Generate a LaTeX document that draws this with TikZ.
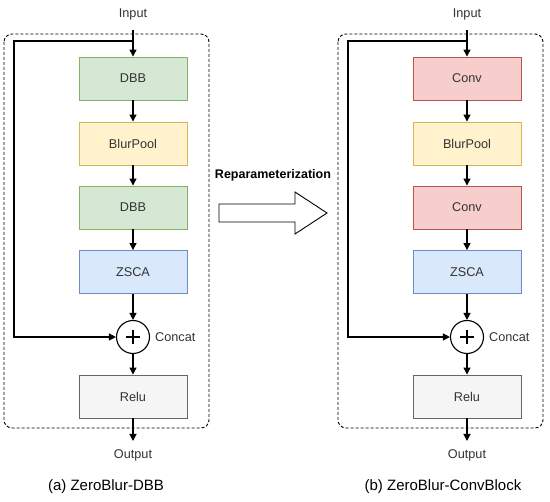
\documentclass[tikz,border=0pt]{standalone}
\usepackage{fontspec}
\setmainfont{Liberation Sans}
\usetikzlibrary{arrows.meta}
\definecolor{gfill}{HTML}{D5E8D4}\definecolor{gline}{HTML}{82B366}
\definecolor{yfill}{HTML}{FFF2CC}\definecolor{yline}{HTML}{D6B656}
\definecolor{bfill}{HTML}{DAE8FC}\definecolor{bline}{HTML}{6C8EBF}
\definecolor{rfill}{HTML}{F8CECC}\definecolor{rline}{HTML}{B85450}
\definecolor{wfill}{HTML}{F5F5F5}\definecolor{wline}{HTML}{666666}
\definecolor{txt}{HTML}{333333}
\tikzset{
  blk/.style={draw, line width=0.9pt, minimum width=108pt, minimum height=43pt, inner sep=0pt, font=\fontsize{12.7}{15}\selectfont, text=txt},
  gbox/.style={blk, fill=gfill, draw=gline},
  ybox/.style={blk, fill=yfill, draw=yline},
  bbox/.style={blk, fill=bfill, draw=bline},
  rbox/.style={blk, fill=rfill, draw=rline},
  wbox/.style={blk, fill=wfill, draw=wline},
  lbl/.style={font=\fontsize{12.7}{15}\selectfont, text=txt, inner sep=1pt},
  captext/.style={font=\fontsize{15}{17}\selectfont, text=black},
  conn/.style={line width=1.2pt, -{Triangle[length=7pt,width=7pt]}},
  plusline/.style={line width=2pt},
  dframe/.style={draw, line width=0.9pt, dash pattern=on 3pt off 2pt, rounded corners=8pt},
  sumc/.style={draw, circle, line width=1.1pt, minimum size=33pt, inner sep=0pt, fill=white},
}
\begin{document}
\begin{tikzpicture}[x=1pt,y=-1pt]
\useasboundingbox[fill=white] (0,0) rectangle (550,502);
% ---------- panel a ----------
\draw[dframe] (4,34) rectangle (209,428);
\node[lbl] (ainput) at (133,14) {Input};
\coordinate (astart) at (133,30);
\coordinate (ajunc) at (133,41);
\coordinate (aloop) at (14,41);
\node[gbox] (adbb1) at (133,78.5) {DBB};
\node[ybox] (ablur) at (133,143.5) {BlurPool};
\node[gbox] (adbb2) at (133,207.5) {DBB};
\node[bbox] (azsca) at (133,272) {ZSCA};
\node[sumc] (asum) at (133,337) {};
\draw[plusline] (126,337) -- (140,337);
\draw[plusline] (133,330) -- (133,344);
\node[lbl, anchor=west] (aconcat) at (154,337) {Concat};
\node[wbox] (arelu) at (133,396.5) {Relu};
\coordinate (aend) at (133,441);
\node[lbl] (aoutput) at (133,455) {Output};
\node[captext] (acap) at (106,487) {(a) ZeroBlur-DBB};
\draw[conn] (astart) -- (adbb1);
\draw[conn] (adbb1) -- (ablur);
\draw[conn] (ablur) -- (adbb2);
\draw[conn] (adbb2) -- (azsca);
\draw[conn] (azsca) -- (asum);
\draw[conn] (asum) -- (arelu);
\draw[conn] (arelu) -- (aend);
\draw[conn] (ajunc) -- (aloop) |- (asum.west);
% ---------- arrow ----------
\node[font=\bfseries\fontsize{12.5}{14}\selectfont] (reparam) at (273,175) {Reparameterization};
\draw[line width=0.9pt, fill=white] (219,204) -- (295,204) -- (295,192) -- (327,213) -- (295,234) -- (295,222) -- (219,222) -- cycle;
% ---------- panel b ----------
\draw[dframe] (338,34) rectangle (543,428);
\node[lbl] (binput) at (467,14) {Input};
\coordinate (bstart) at (467,30);
\coordinate (bjunc) at (467,41);
\coordinate (bloop) at (348,41);
\node[rbox] (bconv1) at (467,78.5) {Conv};
\node[ybox] (bblur) at (467,143.5) {BlurPool};
\node[rbox] (bconv2) at (467,207.5) {Conv};
\node[bbox] (bzsca) at (467,272) {ZSCA};
\node[sumc] (bsum) at (467,337) {};
\draw[plusline] (460,337) -- (474,337);
\draw[plusline] (467,330) -- (467,344);
\node[lbl, anchor=west] (bconcat) at (488,337) {Concat};
\node[wbox] (brelu) at (467,396.5) {Relu};
\coordinate (bend) at (467,441);
\node[lbl] (boutput) at (467,455) {Output};
\node[captext] (bcap) at (443,487) {(b) ZeroBlur-ConvBlock};
\draw[conn] (bstart) -- (bconv1);
\draw[conn] (bconv1) -- (bblur);
\draw[conn] (bblur) -- (bconv2);
\draw[conn] (bconv2) -- (bzsca);
\draw[conn] (bzsca) -- (bsum);
\draw[conn] (bsum) -- (brelu);
\draw[conn] (brelu) -- (bend);
\draw[conn] (bjunc) -- (bloop) |- (bsum.west);
\end{tikzpicture}
\end{document}
